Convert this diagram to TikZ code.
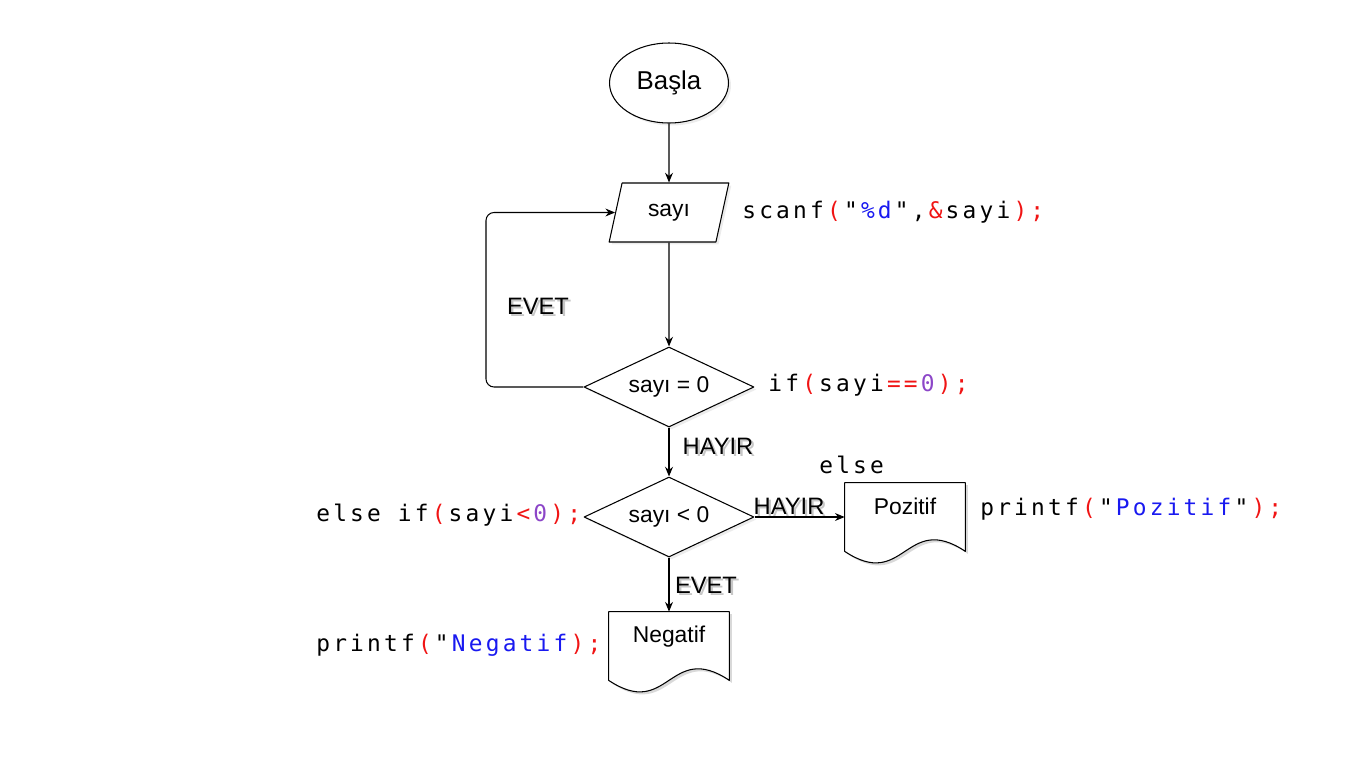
\documentclass[tikz,border=0pt]{standalone}
\usepackage{fontspec}
\setmainfont{Liberation Sans}
\newfontfamily\codefont[LetterSpace=14]{DejaVu Sans Mono}
\usetikzlibrary{shapes.geometric}
\usetikzlibrary{arrows.meta}
\usetikzlibrary{shadows}
\usetikzlibrary{calc}
\definecolor{codered}{RGB}{240,20,20}
\definecolor{codeblue}{RGB}{25,25,240}
\definecolor{codepurple}{RGB}{140,70,200}
\newcommand\lsp{\kern.14em}
\newcommand\cred[1]{\textcolor{codered}{#1}}
\newcommand\cblue[1]{\textcolor{codeblue}{#1}}
\newcommand\cpurp[1]{\textcolor{codepurple}{#1}}
\newcommand\shtext[1]{\makebox[0pt][l]{\hspace{1.3pt}\raisebox{-1.3pt}{\textcolor{black!22}{#1}}}#1}
\newcommand\docpath[1]{(#1.south west) -- (#1.north west) -- (#1.north east) -- (#1.south east) .. controls +(-60,-40) and +(60,40) .. (#1.south west) -- cycle}
\tikzset{
  box/.style={draw, line width=0.6pt, fill=white, inner sep=0pt,
    font=\fontsize{13}{15}\selectfont,
    drop shadow={opacity=.15, shadow xshift=.05cm, shadow yshift=-.05cm}},
  docbox/.style={minimum width=2.4cm, minimum height=1.36cm, inner sep=0pt},
  docline/.style={draw, line width=0.6pt, fill=white},
  docshade/.style={fill=black, opacity=.15, transform canvas={shift={(.05cm,-.05cm)}}},
  txt/.style={inner sep=0pt, font=\fontsize{13}{15}\selectfont},
  lbl/.style={inner sep=0pt, font=\fontsize{13.5}{15}\selectfont},
  code/.style={inner sep=0pt, anchor=west, font=\codefont\fontsize{13}{15}\selectfont},
  arr/.style={line width=0.6pt, -{Stealth[length=5.5pt, width=4.5pt]}}
}
\begin{document}
\begin{tikzpicture}[x=0.02cm, y=-0.02cm, line join=round, >=Stealth]
  \useasboundingbox (0,0) rectangle (1366,768);
  % akis sekilleri
  \node[box, ellipse, minimum width=2.38cm, minimum height=1.6cm,
    font=\fontsize{14.7}{17}\selectfont] (start) at (669,83) {Başla};
  \node[box, trapezium, trapezium left angle=71.3, trapezium right angle=108.7,
    trapezium stretches=true, minimum width=2.4cm, minimum height=1.18cm] (inp) at (669,212.5) {sayı};
  \node[box, diamond, shape aspect=2.125, minimum width=3.4cm, minimum height=1.6cm] (d1) at (669,387) {sayı = 0};
  \node[box, diamond, shape aspect=2.125, minimum width=3.4cm, minimum height=1.6cm] (d2) at (669,517) {sayı < 0};
  \node[docbox] (pos) at (905,517) {};
  \node[docbox] (neg) at (669,646) {};
  \fill[docshade] \docpath{pos};
  \draw[docline] \docpath{pos};
  \fill[docshade] \docpath{neg};
  \draw[docline] \docpath{neg};
  \node[txt] (postxt) at ($(pos.north)+(0,24)$) {Pozitif};
  \node[txt] (negtxt) at ($(neg.north)+(0,25)$) {Negatif};
  % baglantilar
  \coordinate (loop) at (486,300);
  \draw[arr] (start) -- (inp);
  \draw[arr] (inp) -- (d1);
  \draw[arr] (d1) -- (d2);
  \draw[arr] (d2) -- (neg.north);
  \draw[arr] (d2.east) -- (pos.west);
  \draw[arr, rounded corners=0.16cm] (d1.west) -| (loop) |- (inp.west);
  % etiketler
  \node[lbl] (evet1) at (538,307) {\shtext{EVET}};
  \node[lbl] (hayir1) at (718,447) {\shtext{HAYIR}};
  \node[lbl] (hayir2) at (789,507) {\shtext{HAYIR}};
  \node[lbl] (evet2) at (706,586) {\shtext{EVET}};
  % C kodu
  \node[code] (scan) at (742,212) {scanf\lsp\cred{(}\lsp"\lsp\cblue{\%d}\lsp",\lsp\cred{\&}\lsp sayi\lsp\cred{);}};
  \node[code] (ifz) at (768,385) {if\lsp\cred{(}\lsp sayi\lsp\cred{==}\lsp\cpurp{0}\lsp\cred{);}};
  \node[code] (elif) at (316,515) {else if\lsp\cred{(}\lsp sayi\lsp\cred{<}\lsp\cpurp{0}\lsp\cred{);}};
  \node[code] (els) at (819,465) {else};
  \node[code] (prpos) at (980,509) {printf\lsp\cred{(}\lsp"\lsp\cblue{Pozitif}\lsp"\lsp\cred{);}};
  \node[code] (prneg) at (316,645) {printf\lsp\cred{(}\lsp"\lsp\cblue{Negatif}\lsp\cred{);}};
\end{tikzpicture}
\end{document}
